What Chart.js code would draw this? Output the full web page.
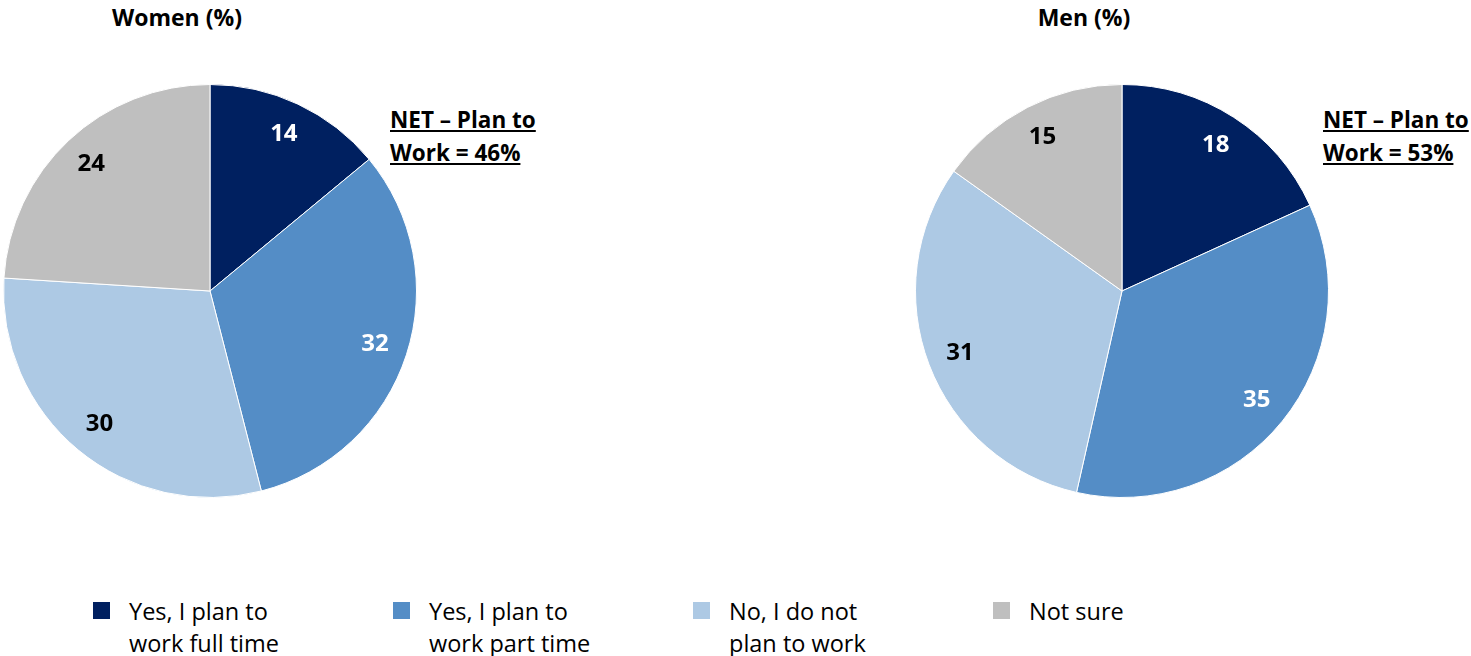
<!DOCTYPE html>
<html>
<head>
<meta charset="utf-8">
<script src="https://cdn.jsdelivr.net/npm/chart.js@4.4.1/dist/chart.umd.min.js"></script>
<style>
  body { margin: 0; background: #fff; font-family: "Open Sans", Lato, sans-serif; }
  #page { position: relative; width: 1471px; height: 656px; overflow: hidden; }
  .pie { position: absolute; top: 84px; width: 414px; height: 414px; }
  .title { position: absolute; top: 1px; font-weight: bold; font-size: 23px; color: #000; transform: translateX(-50%); white-space: nowrap; }
  .net { position: absolute; top: 103px; font-weight: bold; font-size: 22.5px; line-height: 33px; text-decoration: underline; color: #000; white-space: nowrap; }
  #legend { position: absolute; left: 93px; top: 595px; }
  .item { position: absolute; top: 0; width: 300px; }
  .swatch { position: absolute; left: 0; top: 7px; width: 17px; height: 17px; }
  .ltext { position: absolute; left: 36px; top: 0; font-size: 23.5px; line-height: 32px; color: #000; white-space: nowrap; }
</style>
</head>
<body>
<div id="page">
  <div class="title" style="left:177px">Women (%)</div>
  <div class="title" style="left:1084px">Men (%)</div>
  <div class="net" style="left:390px">NET – Plan to<br>Work = 46%</div>
  <div class="net" style="left:1323px">NET – Plan to<br>Work = 53%</div>
  <div class="pie" style="left:3px"><canvas id="women"></canvas></div>
  <div class="pie" style="left:915px"><canvas id="men"></canvas></div>
  <div id="legend"></div>
</div>
<script>
const categories = [
  ['Yes, I plan to', 'work full time'],
  ['Yes, I plan to', 'work part time'],
  ['No, I do not', 'plan to work'],
  ['Not sure']
];
const womenValues = [14, 32, 30, 24];
const menValues = [18, 35, 31, 15];
const colors = ['#002060', '#548DC6', '#ADC9E4', '#BFBFBF'];
const labelColors = ['#fff', '#fff', '#000', '#000'];

// value labels placed out along each slice's middle angle
const sliceLabels = {
  id: 'sliceLabels',
  afterDatasetsDraw(chart) {
    const ctx = chart.ctx;
    const meta = chart.getDatasetMeta(0);
    const data = chart.data.datasets[0].data;
    ctx.save();
    ctx.font = 'bold 24px "Open Sans", Lato, sans-serif';
    ctx.textAlign = 'center';
    ctx.textBaseline = 'middle';
    meta.data.forEach((arc, i) => {
      const p = arc.getProps(['x', 'y', 'startAngle', 'endAngle', 'outerRadius'], true);
      const mid = (p.startAngle + p.endAngle) / 2;
      const r = p.outerRadius * 0.84;
      ctx.fillStyle = labelColors[i];
      ctx.fillText(data[i], p.x + Math.cos(mid) * r, p.y + Math.sin(mid) * r);
    });
    ctx.restore();
  }
};

function makePie(id, values) {
  return new Chart(document.getElementById(id), {
    type: 'pie',
    data: {
      labels: categories.map(c => c.join(' ')),
      datasets: [{
        data: values,
        backgroundColor: colors,
        borderColor: '#fff',
        borderWidth: 1
      }]
    },
    options: {
      responsive: true,
      maintainAspectRatio: false,
      animation: false,
      layout: { padding: 0 },
      plugins: {
        legend: { display: false },
        tooltip: { enabled: false }
      }
    },
    plugins: [sliceLabels]
  });
}

makePie('women', womenValues);
makePie('men', menValues);

const legend = document.getElementById('legend');
categories.forEach((c, i) => {
  const item = document.createElement('div');
  item.className = 'item';
  item.style.left = (i * 300) + 'px';
  item.innerHTML = '<div class="swatch" style="background:' + colors[i] + '"></div>' +
    '<div class="ltext">' + c.join('<br>') + '</div>';
  legend.appendChild(item);
});
</script>
</body>
</html>
